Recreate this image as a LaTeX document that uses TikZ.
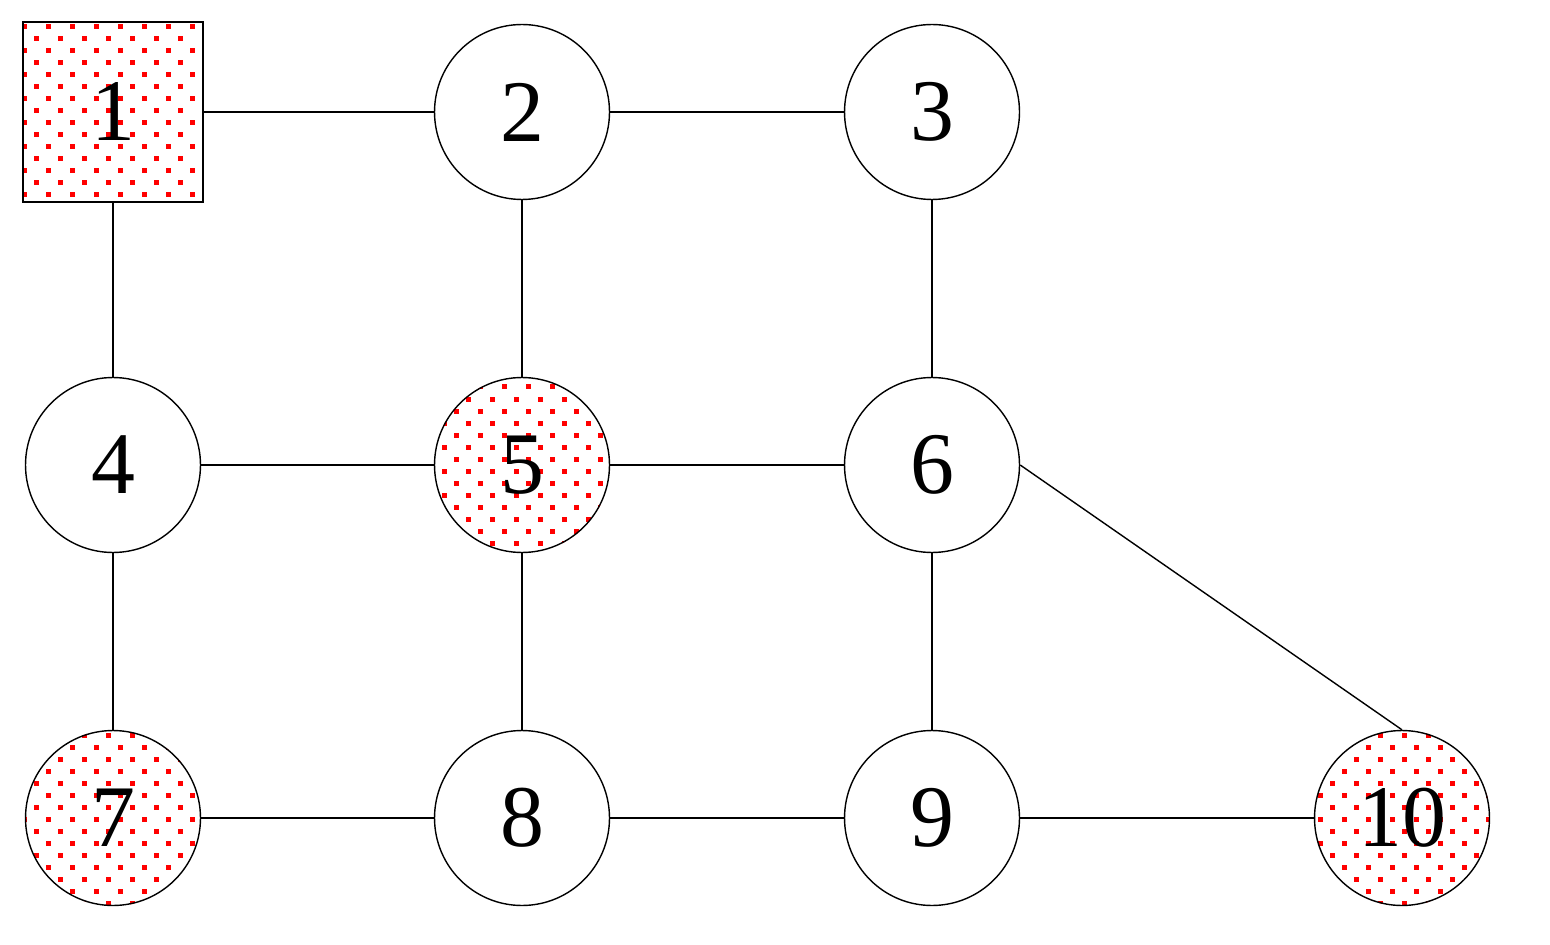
\documentclass[tikz,border=0pt]{standalone}
\usepackage{fontspec}
\setmainfont{Liberation Serif}
\begin{document}
\begin{tikzpicture}[x=0.02cm,y=-0.02cm,
  nd/.style={circle,draw,line width=0.8pt,minimum size=3.5cm,inner sep=0pt,font=\fontsize{50}{60}\selectfont},
  sq/.style={rectangle,draw,line width=0.8pt,minimum size=3.6cm,inner sep=0pt,font=\fontsize{50}{60}\selectfont},
  ed/.style={line width=0.8pt}]
\useasboundingbox (0,0) rectangle (1550,945);
\newcommand{\reddots}[2]{%
  \pgfmathtruncatemacro{\jz}{floor((#2-95-27)/12)}%
  \pgfmathtruncatemacro{\jo}{\jz+17}%
  \pgfmathtruncatemacro{\iz}{floor((#1-95-24)/24)}%
  \pgfmathtruncatemacro{\io}{\iz+9}%
  \foreach \j in {\jz,...,\jo}{\foreach \i in {\iz,...,\io}{%
    \pgfmathsetmacro{\xx}{24+24*\i+12*mod(abs(\j),2)}%
    \pgfmathsetmacro{\yy}{27+12*\j}%
    \fill[red] (\xx-2.5,\yy-2.5) rectangle (\xx+2.5,\yy+2.5);}}}
\begin{scope}\clip (23,20) rectangle (203,204); \reddots{113}{112}\end{scope}
\begin{scope}\clip (522,465) circle (88); \reddots{522}{465}\end{scope}
\begin{scope}\clip (113,818) circle (88); \reddots{113}{818}\end{scope}
\begin{scope}\clip (1402,818) circle (88); \reddots{1402}{818}\end{scope}
\node[sq] (n1) at (113,112) {1};
\node[nd] (n2) at (522,112) {2};
\node[nd] (n3) at (932,112) {3};
\node[nd] (n4) at (113,465) {4};
\node[nd] (n5) at (522,465) {5};
\node[nd] (n6) at (932,465) {6};
\node[nd] (n7) at (113,818) {7};
\node[nd] (n8) at (522,818) {8};
\node[nd] (n9) at (932,818) {9};
\node[nd] (n10) at (1402,818) {10};
\draw[ed] (n1)--(n2); \draw[ed] (n2)--(n3);
\draw[ed] (n1)--(n4); \draw[ed] (n2)--(n5); \draw[ed] (n3)--(n6);
\draw[ed] (n4)--(n5); \draw[ed] (n5)--(n6);
\draw[ed] (n4)--(n7); \draw[ed] (n5)--(n8); \draw[ed] (n6)--(n9);
\draw[ed] (n7)--(n8); \draw[ed] (n8)--(n9); \draw[ed] (n9)--(n10);
\draw[ed] (n6.0)--(n10.90);
\end{tikzpicture}
\end{document}
